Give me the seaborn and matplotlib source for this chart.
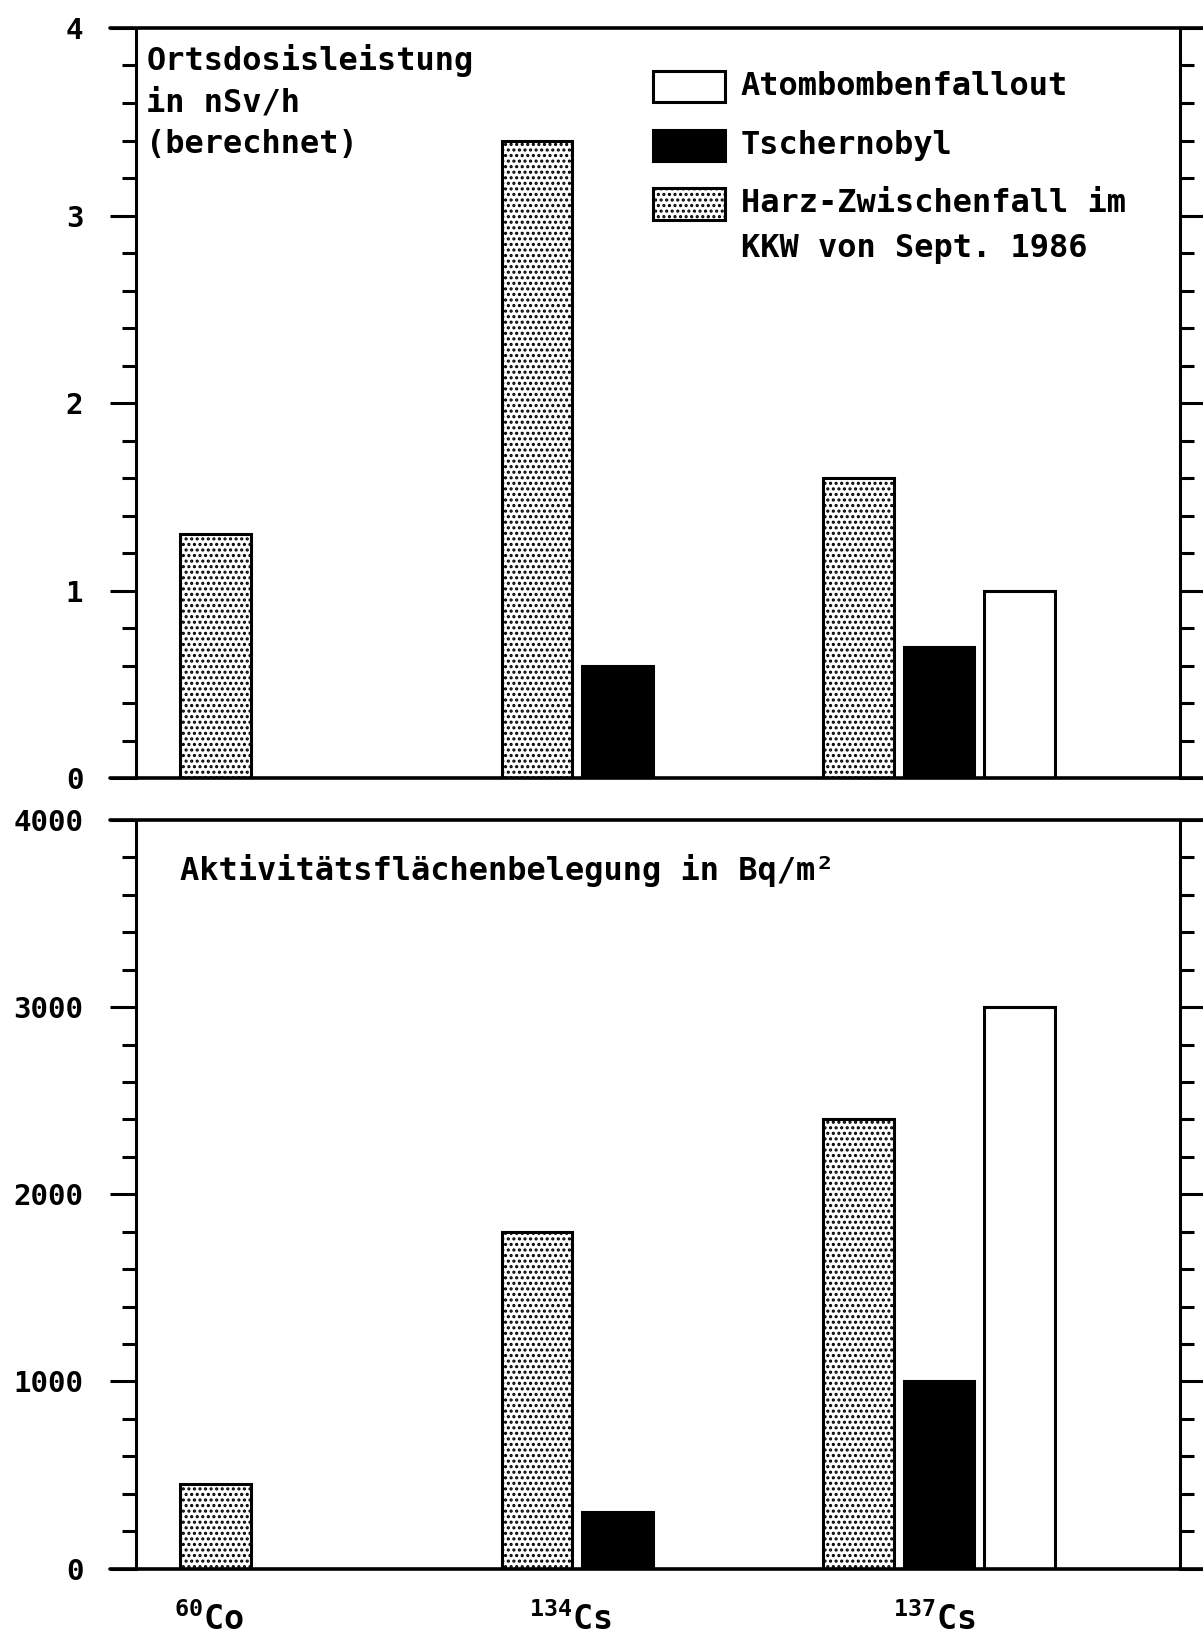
import pandas as pd
import matplotlib.pyplot as plt
import seaborn as sns
from matplotlib.ticker import MultipleLocator

# data
nuklide = ["60Co", "134Cs", "137Cs"]
nuklid_labels = [r"$^{60}$Co", r"$^{134}$Cs", r"$^{137}$Cs"]
quellen = ["Harz", "Tschernobyl", "Atombombenfallout"]
legend_labels = {
    "Atombombenfallout": "Atombombenfallout",
    "Tschernobyl": "Tschernobyl",
    "Harz": "Harz-Zwischenfall im\nKKW von Sept. 1986",
}

dosis_harz = [1.3, 3.4, 1.6]
dosis_tschernobyl = [None, 0.6, 0.7]
dosis_atom = [None, None, 1.0]

belegung_harz = [450, 1800, 2400]
belegung_tschernobyl = [None, 300, 1000]
belegung_atom = [None, None, 3000]


def long_table(harz, tscherno, atom):
    rows = []
    for quelle, werte in zip(quellen, [harz, tscherno, atom]):
        for nuklid, wert in zip(nuklide, werte):
            if wert is not None:
                rows.append({"nuklid": nuklid, "quelle": quelle, "wert": wert})
    return pd.DataFrame(rows)


df_dosis = long_table(dosis_harz, dosis_tschernobyl, dosis_atom)
df_belegung = long_table(belegung_harz, belegung_tschernobyl, belegung_atom)

sns.set_style("ticks")
plt.rcParams["font.family"] = ["DejaVu Sans Mono", "DejaVu Sans"]
plt.rcParams["font.weight"] = "bold"
plt.rcParams["mathtext.fontset"] = "custom"
plt.rcParams["mathtext.rm"] = "DejaVu Sans Mono:bold"
plt.rcParams["mathtext.it"] = "DejaVu Sans Mono:bold"
plt.rcParams["mathtext.bf"] = "DejaVu Sans Mono:bold"
plt.rcParams["hatch.linewidth"] = 1.5
for key in ["text.color", "axes.labelcolor", "xtick.color", "ytick.color", "axes.edgecolor"]:
    plt.rcParams[key] = "black"

farben = {"Harz": "white", "Tschernobyl": "black", "Atombombenfallout": "white"}

fig = plt.figure(figsize=(12.03, 16.37), dpi=100)
ax1 = fig.add_axes([0.1131, 0.5247, 0.8678, 0.4582])
ax2 = fig.add_axes([0.1131, 0.0418, 0.8678, 0.4573])


def panel(ax, df, ymax, major):
    sns.barplot(data=df, x="nuklid", y="wert", hue="quelle", order=nuklide,
                hue_order=quellen, palette=farben, saturation=1, width=0.75,
                gap=0.12, edgecolor="black", linewidth=2.2, errorbar=None,
                legend=False, ax=ax)
    for bar in ax.containers[0]:
        bar.set_hatch("...")
    ax.set_xlim(-0.497, 2.75)
    ax.set_ylim(0, ymax)
    ax.set_xlabel("")
    ax.set_ylabel("")
    ax.yaxis.set_major_locator(MultipleLocator(major))
    ax.yaxis.set_minor_locator(MultipleLocator(major / 5))
    ax.tick_params(axis="y", which="major", length=19, width=2.2, left=True,
                   right=True, labelsize=21, pad=19)
    ax.tick_params(axis="y", which="minor", length=10, width=2.2, left=True,
                   right=True)
    ax.tick_params(axis="x", length=0)
    for s in ["top", "bottom"]:
        ax.spines[s].set_visible(False)
    for s in ["left", "right"]:
        ax.spines[s].set_linewidth(2.2)
    for y in [0, ymax]:
        ax.axhline(y, xmin=-0.025, xmax=1.03, color="black", lw=2.6, clip_on=False)


panel(ax1, df_dosis, 4, 1)
panel(ax2, df_belegung, 4000, 1000)

ax1.tick_params(axis="x", labelbottom=False)
ax2.set_xticks([-0.27, 0.855, 1.985])
ax2.set_xticklabels(nuklid_labels, fontsize=24)
ax2.tick_params(axis="x", pad=24)

ax1.text(0.01, 0.978, "Ortsdosisleistung\nin nSv/h\n(berechnet)",
         transform=ax1.transAxes, ha="left", va="top", fontsize=23, linespacing=1.42)
ax2.text(0.042, 0.933, "Aktivitätsflächenbelegung in Bq/m²",
         transform=ax2.transAxes, ha="left", va="center", fontsize=23)

handles = {q: c[0] for q, c in zip(quellen, ax1.containers)}
order = ["Atombombenfallout", "Tschernobyl", "Harz"]
leg = ax1.legend([handles[q] for q in order], [legend_labels[q] for q in order],
                 loc="upper left", bbox_to_anchor=(0.495, 0.943), frameon=False,
                 fontsize=23, handlelength=2.25, handleheight=1.15, handletextpad=0.5,
                 labelspacing=0.85, borderaxespad=0, borderpad=0)
for t in leg.get_texts():
    t.set_linespacing(1.55)
# put the patch next to the first line of the two-line entry
for col in leg._legend_handle_box.get_children():
    for row in col.get_children():
        row.align = "top"

fig.savefig("out.png", dpi=100)
